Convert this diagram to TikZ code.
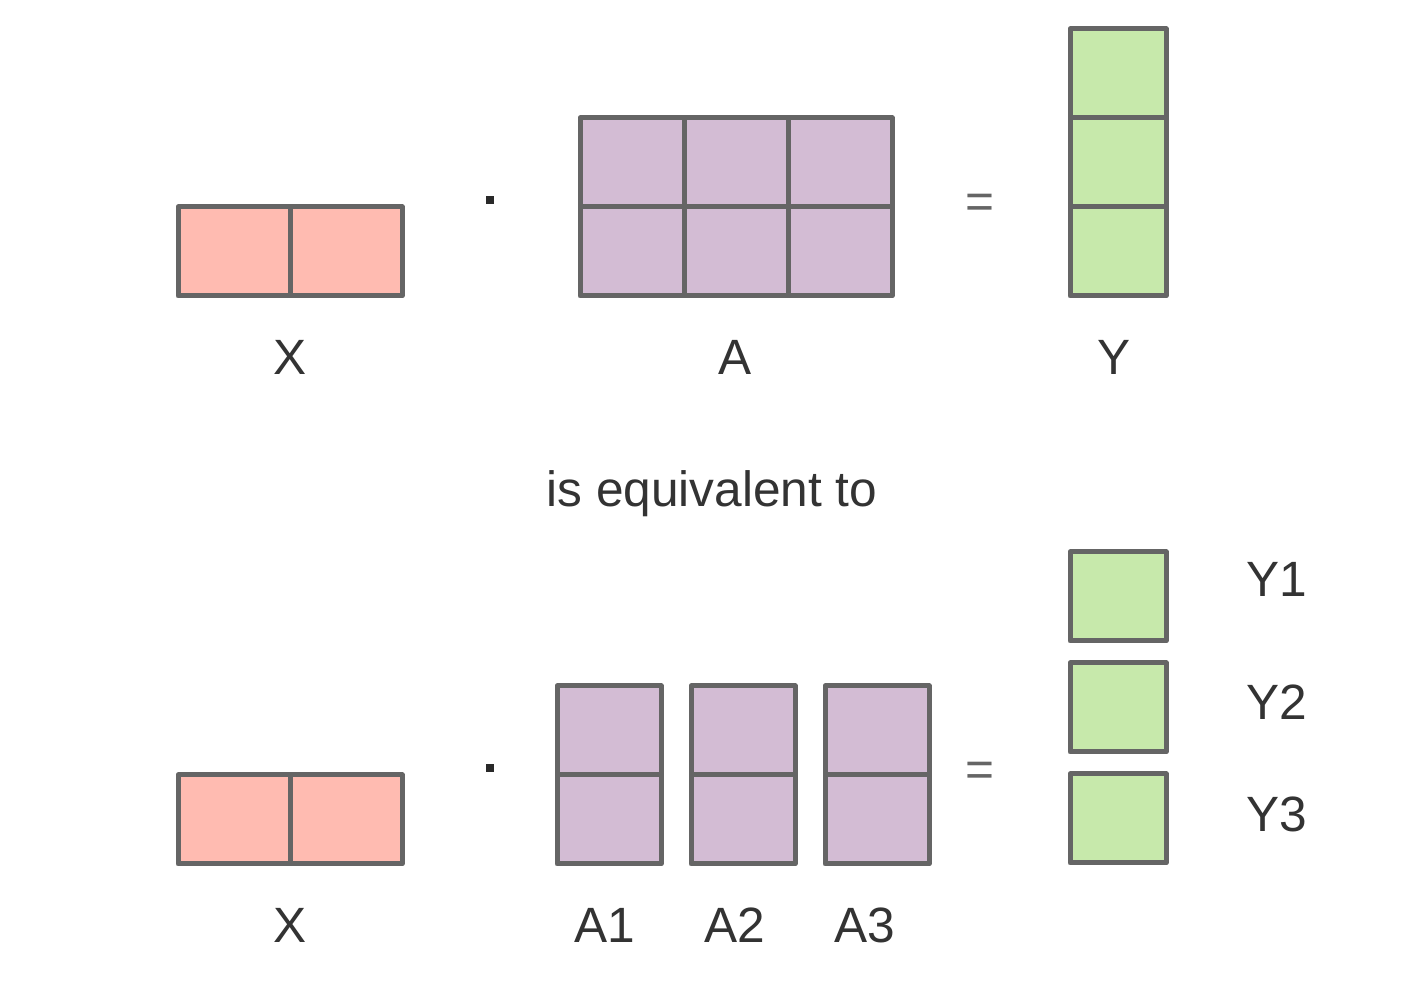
\documentclass[tikz,border=0pt]{standalone}
\usepackage{fontspec}
\setmainfont{Liberation Sans}
\usetikzlibrary{shapes}

\definecolor{edge}{HTML}{656565}
\definecolor{xfill}{HTML}{FFBBB1}
\definecolor{afill}{HTML}{D3BCD4}
\definecolor{yfill}{HTML}{C7E9AB}
\definecolor{ink}{HTML}{333333}

\begin{document}
\begin{tikzpicture}[x=0.25pt, y=-0.25pt]

\tikzstyle{cell} = [rectangle, draw=edge, line width=1.25pt, line join=round,
inner sep=0pt, minimum height=22.25pt]
\tikzstyle{xcell} = [cell, fill=xfill, minimum width=28pt, node distance=28pt]
\tikzstyle{acell} = [cell, fill=afill, minimum width=26pt, node distance=26pt]
\tikzstyle{ycell} = [cell, fill=yfill, minimum width=24pt, node distance=22.25pt]
\tikzstyle{mlabel} = [text=ink, anchor=base, inner sep=0pt,
font=\fontsize{12.4}{15}\selectfont]
\tikzstyle{opsign} = [text=edge, inner sep=0pt, font=\fontsize{12.4}{15}\selectfont]
\tikzstyle{timesdot} = [rectangle, fill=ink!80!black, inner sep=0pt, minimum size=2pt]

\fill [white] (0,0) rectangle (1406,984);
\useasboundingbox (0,0) rectangle (1406,984);

% top row
\node [xcell] (x1) at (234,251.5) {};
\node [xcell, right of=x1] (x2) {};
\node [timesdot] (dot1) at (490,200) {};

\node [acell] (a11) at (632,162.5) {};
\node [acell, right of=a11] (a12) {};
\node [acell, right of=a12] (a13) {};
\node [acell, below of=a11, node distance=22.25pt] (a21) {};
\node [acell, below of=a12, node distance=22.25pt] (a22) {};
\node [acell, below of=a13, node distance=22.25pt] (a23) {};
\node [opsign] (eq1) at (980,206) {=};

\node [ycell] (y1) at (1118,73.5) {};
\node [ycell, below of=y1] (y2) {};
\node [ycell, below of=y2] (y3) {};

\node [mlabel] (xname) at (290,375) {X};
\node [mlabel] (aname) at (735,375) {A};
\node [mlabel] (yname) at (1114,375) {Y};

\node [mlabel] (equiv) at (712,507) {is equivalent to};

% bottom row
\node [xcell] (bx1) at (234,819.5) {};
\node [xcell, right of=bx1] (bx2) {};
\node [timesdot] (dot2) at (490,768) {};

\node [acell] (b11) at (609,730.5) {};
\node [acell, right of=b11, node distance=33.5pt] (b12) {};
\node [acell, right of=b12, node distance=33.5pt] (b13) {};
\node [acell, below of=b11, node distance=22.25pt] (b21) {};
\node [acell, below of=b12, node distance=22.25pt] (b22) {};
\node [acell, below of=b13, node distance=22.25pt] (b23) {};
\node [opsign] (eq2) at (980,774) {=};

\node [ycell] (by1) at (1118,596.5) {};
\node [ycell, below of=by1, node distance=27.75pt] (by2) {};
\node [ycell, below of=by2, node distance=27.75pt] (by3) {};

\node [mlabel] (bxname) at (290,943) {X};
\node [mlabel] (a1name) at (605,943) {A1};
\node [mlabel] (a2name) at (735,943) {A2};
\node [mlabel] (a3name) at (865,943) {A3};

\node [mlabel] (y1name) at (1277,597) {Y1};
\node [mlabel] (y2name) at (1277,720) {Y2};
\node [mlabel] (y3name) at (1277,831) {Y3};
\end{tikzpicture}
\end{document}
